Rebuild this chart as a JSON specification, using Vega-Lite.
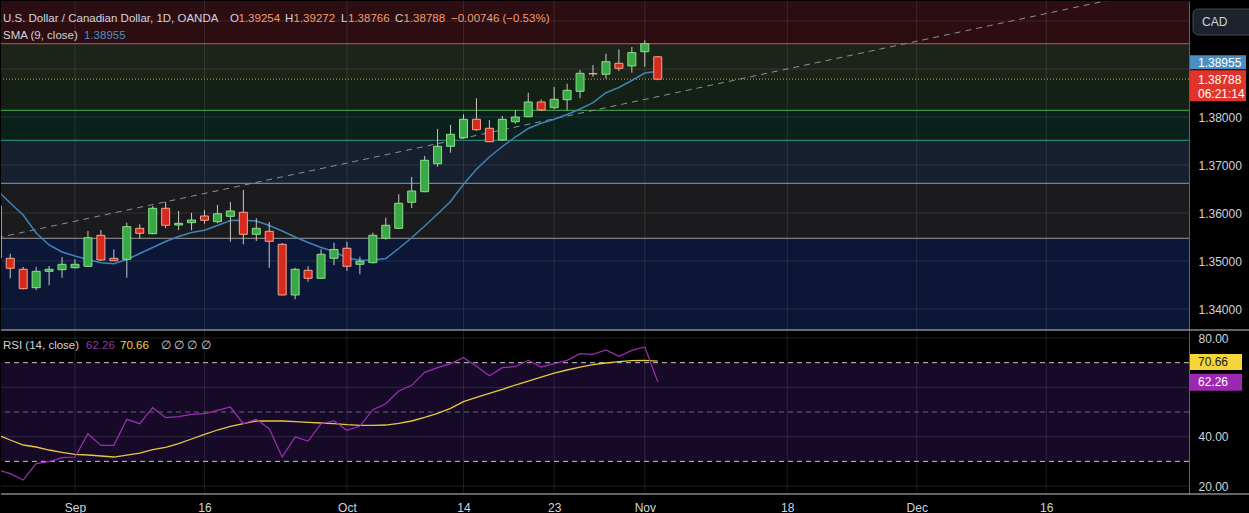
{
"$schema": "https://vega.github.io/schema/vega-lite/v6.json",
"background": "#000000",
"padding": 0,
"bounds": "flush",
"spacing": 1,
"config": {"view": {"stroke": null}, "font": "Liberation Sans"},
"datasets": {
"candles": [
{"d":"2024-08-23","i":-6,"o":1.36146,"h":1.3621,"l":1.3499,"c":1.35069},
{"d":"2024-08-26","i":-5,"o":1.35056,"h":1.35152,"l":1.3464,"c":1.34848},
{"d":"2024-08-27","i":-4,"o":1.34827,"h":1.34875,"l":1.3441,"c":1.34423},
{"d":"2024-08-28","i":-3,"o":1.34444,"h":1.34875,"l":1.34396,"c":1.34785},
{"d":"2024-08-29","i":-2,"o":1.34785,"h":1.34896,"l":1.34494,"c":1.34827},
{"d":"2024-08-30","i":-1,"o":1.34819,"h":1.35083,"l":1.34652,"c":1.34931},
{"d":"2024-09-02","i":0,"o":1.3486,"h":1.35035,"l":1.3484,"c":1.34931},
{"d":"2024-09-03","i":1,"o":1.3489,"h":1.35625,"l":1.34875,"c":1.35485},
{"d":"2024-09-04","i":2,"o":1.35535,"h":1.35646,"l":1.35,"c":1.35021},
{"d":"2024-09-05","i":3,"o":1.35056,"h":1.35244,"l":1.35,"c":1.35006},
{"d":"2024-09-06","i":4,"o":1.35035,"h":1.35798,"l":1.34652,"c":1.35715},
{"d":"2024-09-09","i":5,"o":1.35681,"h":1.35765,"l":1.35473,"c":1.35577},
{"d":"2024-09-10","i":6,"o":1.35569,"h":1.36146,"l":1.35556,"c":1.36098},
{"d":"2024-09-11","i":7,"o":1.36098,"h":1.36229,"l":1.35681,"c":1.35744},
{"d":"2024-09-12","i":8,"o":1.3575,"h":1.36042,"l":1.35646,"c":1.35785},
{"d":"2024-09-13","i":9,"o":1.35798,"h":1.36006,"l":1.3564,"c":1.35854},
{"d":"2024-09-16","i":10,"o":1.35938,"h":1.36063,"l":1.35777,"c":1.35848},
{"d":"2024-09-17","i":11,"o":1.35819,"h":1.36167,"l":1.35785,"c":1.35985},
{"d":"2024-09-18","i":12,"o":1.35931,"h":1.36229,"l":1.35402,"c":1.36042},
{"d":"2024-09-19","i":13,"o":1.36015,"h":1.36479,"l":1.35348,"c":1.35556},
{"d":"2024-09-20","i":14,"o":1.35556,"h":1.3589,"l":1.35417,"c":1.35681},
{"d":"2024-09-23","i":15,"o":1.35619,"h":1.35813,"l":1.3486,"c":1.3541},
{"d":"2024-09-24","i":16,"o":1.35348,"h":1.35375,"l":1.34285,"c":1.34292},
{"d":"2024-09-25","i":17,"o":1.34292,"h":1.3486,"l":1.34202,"c":1.34827},
{"d":"2024-09-26","i":18,"o":1.34806,"h":1.3489,"l":1.34569,"c":1.3464},
{"d":"2024-09-27","i":19,"o":1.3464,"h":1.35244,"l":1.34625,"c":1.3514},
{"d":"2024-09-30","i":20,"o":1.35056,"h":1.35381,"l":1.34913,"c":1.3524},
{"d":"2024-10-01","i":21,"o":1.35265,"h":1.354,"l":1.34792,"c":1.3489},
{"d":"2024-10-02","i":22,"o":1.34931,"h":1.3509,"l":1.34723,"c":1.34994},
{"d":"2024-10-03","i":23,"o":1.34965,"h":1.3559,"l":1.3495,"c":1.35535},
{"d":"2024-10-04","i":24,"o":1.35473,"h":1.35902,"l":1.35444,"c":1.35744},
{"d":"2024-10-07","i":25,"o":1.35681,"h":1.3639,"l":1.35677,"c":1.36202},
{"d":"2024-10-08","i":26,"o":1.36223,"h":1.3675,"l":1.36104,"c":1.36458},
{"d":"2024-10-09","i":27,"o":1.36444,"h":1.37188,"l":1.36431,"c":1.37098},
{"d":"2024-10-10","i":28,"o":1.37027,"h":1.3775,"l":1.36965,"c":1.3739},
{"d":"2024-10-11","i":29,"o":1.3739,"h":1.37833,"l":1.37256,"c":1.3764},
{"d":"2024-10-14","i":30,"o":1.37569,"h":1.38056,"l":1.37548,"c":1.37952},
{"d":"2024-10-15","i":31,"o":1.37952,"h":1.3839,"l":1.37708,"c":1.37735},
{"d":"2024-10-16","i":32,"o":1.37765,"h":1.37938,"l":1.37479,"c":1.37485},
{"d":"2024-10-17","i":33,"o":1.37521,"h":1.38021,"l":1.375,"c":1.37952},
{"d":"2024-10-18","i":34,"o":1.37902,"h":1.3814,"l":1.3786,"c":1.38},
{"d":"2024-10-21","i":35,"o":1.38006,"h":1.38506,"l":1.38,"c":1.38313},
{"d":"2024-10-22","i":36,"o":1.38313,"h":1.38369,"l":1.38125,"c":1.38146},
{"d":"2024-10-23","i":37,"o":1.38194,"h":1.38625,"l":1.3816,"c":1.38369},
{"d":"2024-10-24","i":38,"o":1.3836,"h":1.38694,"l":1.3814,"c":1.38556},
{"d":"2024-10-25","i":39,"o":1.38535,"h":1.38979,"l":1.3839,"c":1.3891},
{"d":"2024-10-28","i":40,"o":1.38905,"h":1.39083,"l":1.3884,"c":1.38898},
{"d":"2024-10-29","i":41,"o":1.3889,"h":1.39319,"l":1.38798,"c":1.39152},
{"d":"2024-10-30","i":42,"o":1.39119,"h":1.3941,"l":1.38958,"c":1.39015},
{"d":"2024-10-31","i":43,"o":1.39063,"h":1.39458,"l":1.38923,"c":1.3934},
{"d":"2024-11-01","i":44,"o":1.3936,"h":1.39598,"l":1.39048,"c":1.39527},
{"d":"2024-11-04","i":45,"o":1.39254,"h":1.39272,"l":1.38766,"c":1.38788}
],
"sma": [
{"i":-6,"v":1.364688},{"i":-5,"v":1.362083},{"i":-4,"v":1.359583},{"i":-3,"v":1.355833},{"i":-2,"v":1.353333},{"i":-1,"v":1.351875},
{"i":0,"v":1.351042},{"i":1,"v":1.350313},{"i":2,"v":1.349646},{"i":3,"v":1.349438},{"i":4,"v":1.350313},{"i":5,"v":1.351563},
{"i":6,"v":1.352813},{"i":7,"v":1.354063},{"i":8,"v":1.355104},{"i":9,"v":1.355938},{"i":10,"v":1.356396},{"i":11,"v":1.357396},
{"i":12,"v":1.358438},{"i":13,"v":1.358479},{"i":14,"v":1.358333},{"i":15,"v":1.357396},{"i":16,"v":1.35625},{"i":17,"v":1.355},
{"i":18,"v":1.353854},{"i":19,"v":1.352813},{"i":20,"v":1.351979},{"i":21,"v":1.350625},{"i":22,"v":1.350146},{"i":23,"v":1.350208},
{"i":24,"v":1.350521},{"i":25,"v":1.352604},{"i":26,"v":1.354854},{"i":27,"v":1.357292},{"i":28,"v":1.359792},{"i":29,"v":1.362396},
{"i":30,"v":1.365979},{"i":31,"v":1.369104},{"i":32,"v":1.371667},{"i":33,"v":1.373854},{"i":34,"v":1.375833},{"i":35,"v":1.377604},
{"i":36,"v":1.378688},{"i":37,"v":1.379521},{"i":38,"v":1.380521},{"i":39,"v":1.381667},{"i":40,"v":1.382979},{"i":41,"v":1.385063},
{"i":42,"v":1.386146},{"i":43,"v":1.387604},{"i":44,"v":1.389167},{"i":45,"v":1.38955}
],
"rsi": [
{"i":-6,"rsi":26.63,"ma":40.82},{"i":-5,"rsi":25.01,"ma":38.65},{"i":-4,"rsi":22.44,"ma":36.63},{"i":-3,"rsi":29.06,"ma":35.82},
{"i":-2,"rsi":29.87,"ma":34.6},{"i":-1,"rsi":31.49,"ma":33.66},{"i":0,"rsi":31.76,"ma":32.84},{"i":1,"rsi":41.22,"ma":32.57},
{"i":2,"rsi":36.49,"ma":32.17},{"i":3,"rsi":36.49,"ma":31.76},{"i":4,"rsi":47.03,"ma":32.57},{"i":5,"rsi":45.27,"ma":33.38},
{"i":6,"rsi":51.76,"ma":34.74},{"i":7,"rsi":47.71,"ma":35.68},{"i":8,"rsi":48.11,"ma":37.17},{"i":9,"rsi":49.06,"ma":39.06},
{"i":10,"rsi":49.33,"ma":40.95},{"i":11,"rsi":50.68,"ma":42.71},{"i":12,"rsi":52.03,"ma":44.19},{"i":13,"rsi":45.27,"ma":45.27},
{"i":14,"rsi":47.03,"ma":46.36},{"i":15,"rsi":43.25,"ma":46.36},{"i":16,"rsi":31.76,"ma":46.36},{"i":17,"rsi":39.87,"ma":46.09},
{"i":18,"rsi":38.25,"ma":45.82},{"i":19,"rsi":45.27,"ma":45.55},{"i":20,"rsi":46.36,"ma":45.27},{"i":21,"rsi":42.57,"ma":44.87},
{"i":22,"rsi":44.33,"ma":44.6},{"i":23,"rsi":50.95,"ma":44.6},{"i":24,"rsi":53.38,"ma":44.73},{"i":25,"rsi":58.52,"ma":45.41},
{"i":26,"rsi":60.81,"ma":46.36},{"i":27,"rsi":66.08,"ma":47.84},{"i":28,"rsi":67.97,"ma":49.46},{"i":29,"rsi":69.6,"ma":51.49},
{"i":30,"rsi":72.03,"ma":54.19},{"i":31,"rsi":68.52,"ma":55.95},{"i":32,"rsi":64.73,"ma":57.57},{"i":33,"rsi":67.97,"ma":59.19},
{"i":34,"rsi":68.38,"ma":60.95},{"i":35,"rsi":70.95,"ma":62.57},{"i":36,"rsi":68.24,"ma":64.19},{"i":37,"rsi":69.6,"ma":65.81},
{"i":38,"rsi":70.95,"ma":67.03},{"i":39,"rsi":73.65,"ma":68.24},{"i":40,"rsi":73.38,"ma":69.19},{"i":41,"rsi":75.14,"ma":69.87},
{"i":42,"rsi":72.57,"ma":70.41},{"i":43,"rsi":75.0,"ma":70.81},{"i":44,"rsi":76.35,"ma":70.95},{"i":45,"rsi":62.26,"ma":70.66}
],
"bands": [
{"band":"b1","lo":1.395271,"hi":1.404167},
{"band":"b2","lo":1.38788,"hi":1.395271},
{"band":"b3","lo":1.381396,"hi":1.38788},
{"band":"b4","lo":1.375146,"hi":1.381396},
{"band":"b5","lo":1.366188,"hi":1.375146},
{"band":"b6","lo":1.354729,"hi":1.366188},
{"band":"b7","lo":1.335625,"hi":1.354729}
],
"levels": [
{"lv":"l1","p":1.395271},{"lv":"l2","p":1.381396},{"lv":"l3","p":1.375146},{"lv":"l4","p":1.366188},{"lv":"l5","p":1.354729}
],
"trend": [{"i":-6,"p":1.354833},{"i":86,"p":1.407896}],
"gridP": [{"p":1.34},{"p":1.35},{"p":1.36},{"p":1.37},{"p":1.38},{"p":1.39},{"p":1.4}],
"gridX": [{"g":0},{"g":10},{"g":21},{"g":30},{"g":37},{"g":44},{"g":55},{"g":65},{"g":75}],
"rsiSolid": [{"v":20},{"v":40},{"v":60},{"v":80}],
"rsiDash": [{"v":30},{"v":70}],
"rsiMid": [{"v":50}]
},
"vconcat": [
{
"width": 1188,
"height": 329,
"resolve": {"axis": {"x": "independent", "y": "independent"}},
"layer": [
{"data":{"name":"bands"},"mark":{"type":"rect"},
 "encoding":{
  "x":{"datum":-5.714,"type":"quantitative","scale":{"domain":[-5.714,86.023],"nice":false,"zero":false,"padding":0},"axis":null},
  "x2":{"datum":86.023},
  "y":{"field":"lo","type":"quantitative","scale":{"domain":[1.335625,1.404167],"nice":false,"zero":false},
       "axis":{"orient":"right","values":[1.34,1.35,1.36,1.37,1.38],"format":".5f","title":null,"grid":false,"ticks":false,"domain":true,"domainColor":"#5d606b","labelColor":"#d1d4dc","labelFontSize":12,"labelPadding":9,"labelFont":"Liberation Sans"}},
  "y2":{"field":"hi"},
  "fill":{"field":"band","type":"nominal","scale":{"domain":["b1","b2","b3","b4","b5","b6","b7"],"range":["#2c0d12","#1c2419","#132013","#0a211b","#16202e","#1b1b1d","#0c1737"]},"legend":null}}},
{"data":{"name":"gridP"},"mark":{"type":"rule","color":"#ffffff","opacity":0.1,"strokeWidth":1},
 "encoding":{"y":{"field":"p","type":"quantitative","axis":null}}},
{"data":{"name":"gridX"},"mark":{"type":"rule","color":"#ffffff","opacity":0.1,"strokeWidth":1},
 "encoding":{"x":{"field":"g","type":"quantitative","axis":null}}},
{"data":{"name":"levels"},"mark":{"type":"rule","strokeWidth":1},
 "encoding":{"y":{"field":"p","type":"quantitative","axis":null},
  "stroke":{"field":"lv","type":"nominal","scale":{"domain":["l1","l2","l3","l4","l5"],"range":["#e04656","#4caf50","#2f9e86","#5fa8e8","#9a9a9a"]},"legend":null}}},
{"data":{"values":[{"p":1.38788}]},"mark":{"type":"rule","color":"#d4a84a","strokeDash":[1,2],"strokeWidth":1},
 "encoding":{"y":{"field":"p","type":"quantitative","axis":null}}},
{"data":{"name":"trend"},"mark":{"type":"line","color":"#8c8f98","strokeDash":[6,5],"strokeWidth":1,"clip":true},
 "encoding":{"x":{"field":"i","type":"quantitative","axis":null},"y":{"field":"p","type":"quantitative","axis":null}}},
{"data":{"name":"sma"},"mark":{"type":"line","color":"#3f83b8","strokeWidth":1.5,"clip":true},
 "encoding":{"x":{"field":"i","type":"quantitative","axis":null},"y":{"field":"v","type":"quantitative","axis":null}}},
{"data":{"name":"candles"},"mark":{"type":"rule","color":"#c8c8c8","strokeWidth":1,"clip":true},
 "encoding":{"x":{"field":"i","type":"quantitative","axis":null},"y":{"field":"l","type":"quantitative","axis":null},"y2":{"field":"h"}}},
{"data":{"name":"candles"},"mark":{"type":"bar","width":8,"strokeWidth":1,"clip":true},
 "encoding":{"x":{"field":"i","type":"quantitative","axis":null},"y":{"field":"o","type":"quantitative","axis":null},"y2":{"field":"c"},
  "fill":{"condition":{"test":"datum.c >= datum.o","value":"#3aa846"},"value":"#d62a1f"},
  "stroke":{"condition":{"test":"datum.c >= datum.o","value":"#8ae08c"},"value":"#f7a58c"}}},
{"data":{"values":[{}]},"mark":{"type":"text","text":"U.S. Dollar / Canadian Dollar, 1D, OANDA","align":"left","baseline":"middle","dx":2,"dy":18,"fontSize":11.5,"color":"#d1d4dc"},
 "encoding":{"x":{"datum":-5.714,"type":"quantitative","axis":null},"y":{"datum":1.404167,"type":"quantitative","axis":null}}},
{"data":{"values":[{}]},"mark":{"type":"text","text":"O","align":"left","baseline":"middle","dx":229,"dy":18,"fontSize":11.5,"color":"#d1d4dc"},
 "encoding":{"x":{"datum":-5.714,"type":"quantitative","axis":null},"y":{"datum":1.404167,"type":"quantitative","axis":null}}},
{"data":{"values":[{}]},"mark":{"type":"text","text":"1.39254","align":"left","baseline":"middle","dx":237.5,"dy":18,"fontSize":11.5,"color":"#f39c6b"},
 "encoding":{"x":{"datum":-5.714,"type":"quantitative","axis":null},"y":{"datum":1.404167,"type":"quantitative","axis":null}}},
{"data":{"values":[{}]},"mark":{"type":"text","text":"H","align":"left","baseline":"middle","dx":284,"dy":18,"fontSize":11.5,"color":"#d1d4dc"},
 "encoding":{"x":{"datum":-5.714,"type":"quantitative","axis":null},"y":{"datum":1.404167,"type":"quantitative","axis":null}}},
{"data":{"values":[{}]},"mark":{"type":"text","text":"1.39272","align":"left","baseline":"middle","dx":292.5,"dy":18,"fontSize":11.5,"color":"#f39c6b"},
 "encoding":{"x":{"datum":-5.714,"type":"quantitative","axis":null},"y":{"datum":1.404167,"type":"quantitative","axis":null}}},
{"data":{"values":[{}]},"mark":{"type":"text","text":"L","align":"left","baseline":"middle","dx":340,"dy":18,"fontSize":11.5,"color":"#d1d4dc"},
 "encoding":{"x":{"datum":-5.714,"type":"quantitative","axis":null},"y":{"datum":1.404167,"type":"quantitative","axis":null}}},
{"data":{"values":[{}]},"mark":{"type":"text","text":"1.38766","align":"left","baseline":"middle","dx":347,"dy":18,"fontSize":11.5,"color":"#f39c6b"},
 "encoding":{"x":{"datum":-5.714,"type":"quantitative","axis":null},"y":{"datum":1.404167,"type":"quantitative","axis":null}}},
{"data":{"values":[{}]},"mark":{"type":"text","text":"C","align":"left","baseline":"middle","dx":394,"dy":18,"fontSize":11.5,"color":"#d1d4dc"},
 "encoding":{"x":{"datum":-5.714,"type":"quantitative","axis":null},"y":{"datum":1.404167,"type":"quantitative","axis":null}}},
{"data":{"values":[{}]},"mark":{"type":"text","text":"1.38788","align":"left","baseline":"middle","dx":402.5,"dy":18,"fontSize":11.5,"color":"#f39c6b"},
 "encoding":{"x":{"datum":-5.714,"type":"quantitative","axis":null},"y":{"datum":1.404167,"type":"quantitative","axis":null}}},
{"data":{"values":[{}]},"mark":{"type":"text","text":"−0.00746 (−0.53%)","align":"left","baseline":"middle","dx":450,"dy":18,"fontSize":11.5,"color":"#f39c6b"},
 "encoding":{"x":{"datum":-5.714,"type":"quantitative","axis":null},"y":{"datum":1.404167,"type":"quantitative","axis":null}}},
{"data":{"values":[{}]},"mark":{"type":"text","text":"SMA (9, close)","align":"left","baseline":"middle","dx":2,"dy":35,"fontSize":11.5,"color":"#d1d4dc"},
 "encoding":{"x":{"datum":-5.714,"type":"quantitative","axis":null},"y":{"datum":1.404167,"type":"quantitative","axis":null}}},
{"data":{"values":[{}]},"mark":{"type":"text","text":"1.38955","align":"left","baseline":"middle","dx":83,"dy":35,"fontSize":11.5,"color":"#4a8fc4"},
 "encoding":{"x":{"datum":-5.714,"type":"quantitative","axis":null},"y":{"datum":1.404167,"type":"quantitative","axis":null}}},
{"data":{"values":[{}]},"mark":{"type":"rect","fill":"#1e222d","stroke":"#434651","strokeWidth":1,"cornerRadius":5,"xOffset":4,"x2Offset":66,"yOffset":8,"y2Offset":34,"clip":false},
 "encoding":{"x":{"datum":86.023,"type":"quantitative","axis":null},"x2":{"datum":86.023},"y":{"datum":1.404167,"type":"quantitative","axis":null},"y2":{"datum":1.404167}}},
{"data":{"values":[{}]},"mark":{"type":"text","text":"CAD","align":"left","baseline":"middle","dx":13,"dy":21,"fontSize":12,"color":"#d1d4dc","clip":false},
 "encoding":{"x":{"datum":86.023,"type":"quantitative","axis":null},"y":{"datum":1.404167,"type":"quantitative","axis":null}}},
{"data":{"values":[{}]},"mark":{"type":"rect","fill":"#4a8fc4","xOffset":1,"x2Offset":57,"yOffset":-16,"y2Offset":-2,"clip":false},
 "encoding":{"x":{"datum":86.023,"type":"quantitative","axis":null},"x2":{"datum":86.023},"y":{"datum":1.38955,"type":"quantitative","axis":null},"y2":{"datum":1.38955}}},
{"data":{"values":[{}]},"mark":{"type":"text","text":"1.38955","align":"left","baseline":"middle","dx":9,"dy":-8.5,"fontSize":12,"color":"#ffffff","clip":false},
 "encoding":{"x":{"datum":86.023,"type":"quantitative","axis":null},"y":{"datum":1.38955,"type":"quantitative","axis":null}}},
{"data":{"values":[{}]},"mark":{"type":"rect","fill":"#e0342a","xOffset":1,"x2Offset":57,"yOffset":-9,"y2Offset":22,"clip":false},
 "encoding":{"x":{"datum":86.023,"type":"quantitative","axis":null},"x2":{"datum":86.023},"y":{"datum":1.38788,"type":"quantitative","axis":null},"y2":{"datum":1.38788}}},
{"data":{"values":[{}]},"mark":{"type":"text","text":"1.38788","align":"left","baseline":"middle","dx":9,"dy":0.5,"fontSize":12,"color":"#ffffff","clip":false},
 "encoding":{"x":{"datum":86.023,"type":"quantitative","axis":null},"y":{"datum":1.38788,"type":"quantitative","axis":null}}},
{"data":{"values":[{}]},"mark":{"type":"text","text":"06:21:14","align":"left","baseline":"middle","dx":9,"dy":14.5,"fontSize":12,"color":"#ffffff","clip":false},
 "encoding":{"x":{"datum":86.023,"type":"quantitative","axis":null},"y":{"datum":1.38788,"type":"quantitative","axis":null}}},
{"data":{"values":[{}]},"mark":{"type":"rule","color":"#c8c8cc","strokeWidth":1,"clip":false},
 "encoding":{"x":{"datum":-5.714,"type":"quantitative","axis":null},"x2":{"datum":90.72},"y":{"datum":1.335625,"type":"quantitative","axis":null}}}
]
},
{
"width": 1188,
"height": 163,
"resolve": {"axis": {"x": "independent", "y": "independent"}},
"layer": [
{"data":{"values":[{}]},"mark":{"type":"rect","fill":"#170a28"},
 "encoding":{
  "x":{"datum":-5.714,"type":"quantitative","scale":{"domain":[-5.714,86.023],"nice":false,"zero":false,"padding":0},
       "axis":{"orient":"bottom","values":[0,10,21,30,37,44,55,65,75],"title":null,"grid":false,"ticks":false,"domain":false,"labelColor":"#d1d4dc","labelFontSize":12,"labelPadding":8,"labelFont":"Liberation Sans",
       "labelExpr":"datum.value==0?'Sep':datum.value==10?'16':datum.value==21?'Oct':datum.value==30?'14':datum.value==37?'23':datum.value==44?'Nov':datum.value==55?'18':datum.value==65?'Dec':'16'"}},
  "x2":{"datum":86.023},
  "y":{"datum":30,"type":"quantitative","scale":{"domain":[16.77,82.84],"nice":false,"zero":false},
       "axis":{"orient":"right","values":[20,40,80],"format":".2f","title":null,"grid":false,"ticks":false,"domain":true,"domainColor":"#5d606b","labelColor":"#d1d4dc","labelFontSize":12,"labelPadding":9,"labelFont":"Liberation Sans"}},
  "y2":{"datum":70}}},
{"data":{"name":"rsiSolid"},"mark":{"type":"rule","color":"#ffffff","opacity":0.12,"strokeWidth":1},
 "encoding":{"y":{"field":"v","type":"quantitative","axis":null}}},
{"data":{"name":"gridX"},"mark":{"type":"rule","color":"#ffffff","opacity":0.1,"strokeWidth":1},
 "encoding":{"x":{"field":"g","type":"quantitative","axis":null}}},
{"data":{"name":"rsiDash"},"mark":{"type":"rule","color":"#c8c8c8","strokeDash":[5,4],"strokeWidth":1},
 "encoding":{"y":{"field":"v","type":"quantitative","axis":null}}},
{"data":{"name":"rsiMid"},"mark":{"type":"rule","color":"#6a6670","strokeDash":[5,4],"strokeWidth":1},
 "encoding":{"y":{"field":"v","type":"quantitative","axis":null}}},
{"data":{"name":"rsi"},"mark":{"type":"line","color":"#e8c840","strokeWidth":1.3,"clip":true},
 "encoding":{"x":{"field":"i","type":"quantitative","axis":null},"y":{"field":"ma","type":"quantitative","axis":null}}},
{"data":{"name":"rsi"},"mark":{"type":"line","color":"#9c2fb4","strokeWidth":1.2,"clip":true},
 "encoding":{"x":{"field":"i","type":"quantitative","axis":null},"y":{"field":"rsi","type":"quantitative","axis":null}}},
{"data":{"values":[{}]},"mark":{"type":"text","text":"RSI (14, close)","align":"left","baseline":"middle","dx":2,"dy":15,"fontSize":11.5,"color":"#d1d4dc"},
 "encoding":{"x":{"datum":-5.714,"type":"quantitative","axis":null},"y":{"datum":82.84,"type":"quantitative","axis":null}}},
{"data":{"values":[{}]},"mark":{"type":"text","text":"62.26","align":"left","baseline":"middle","dx":85,"dy":15,"fontSize":11.5,"color":"#8e3aa0"},
 "encoding":{"x":{"datum":-5.714,"type":"quantitative","axis":null},"y":{"datum":82.84,"type":"quantitative","axis":null}}},
{"data":{"values":[{}]},"mark":{"type":"text","text":"70.66","align":"left","baseline":"middle","dx":119,"dy":15,"fontSize":11.5,"color":"#f5d53a"},
 "encoding":{"x":{"datum":-5.714,"type":"quantitative","axis":null},"y":{"datum":82.84,"type":"quantitative","axis":null}}},
{"data":{"values":[{}]},"mark":{"type":"text","text":"∅  ∅  ∅  ∅","align":"left","baseline":"middle","dx":160,"dy":15,"fontSize":11.5,"color":"#d1d4dc"},
 "encoding":{"x":{"datum":-5.714,"type":"quantitative","axis":null},"y":{"datum":82.84,"type":"quantitative","axis":null}}},
{"data":{"values":[{}]},"mark":{"type":"rect","fill":"#f5d53a","xOffset":1,"x2Offset":53,"yOffset":-7,"y2Offset":9,"clip":false},
 "encoding":{"x":{"datum":86.023,"type":"quantitative","axis":null},"x2":{"datum":86.023},"y":{"datum":70.66,"type":"quantitative","axis":null},"y2":{"datum":70.66}}},
{"data":{"values":[{}]},"mark":{"type":"text","text":"70.66","align":"left","baseline":"middle","dx":9,"dy":1,"fontSize":12,"color":"#131722","clip":false},
 "encoding":{"x":{"datum":86.023,"type":"quantitative","axis":null},"y":{"datum":70.66,"type":"quantitative","axis":null}}},
{"data":{"values":[{}]},"mark":{"type":"rect","fill":"#9c27b0","xOffset":1,"x2Offset":53,"yOffset":-8,"y2Offset":9,"clip":false},
 "encoding":{"x":{"datum":86.023,"type":"quantitative","axis":null},"x2":{"datum":86.023},"y":{"datum":62.26,"type":"quantitative","axis":null},"y2":{"datum":62.26}}},
{"data":{"values":[{}]},"mark":{"type":"text","text":"62.26","align":"left","baseline":"middle","dx":9,"dy":0.5,"fontSize":12,"color":"#ffffff","clip":false},
 "encoding":{"x":{"datum":86.023,"type":"quantitative","axis":null},"y":{"datum":62.26,"type":"quantitative","axis":null}}},
{"data":{"values":[{}]},"mark":{"type":"rule","color":"#c8c8cc","strokeWidth":1,"clip":false},
 "encoding":{"x":{"datum":-5.714,"type":"quantitative","axis":null},"x2":{"datum":90.72},"y":{"datum":16.77,"type":"quantitative","axis":null}}}
]
}
]
}
